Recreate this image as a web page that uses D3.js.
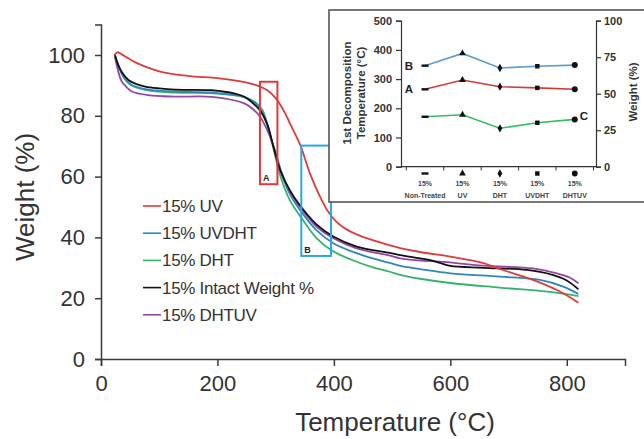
<!DOCTYPE html>
<html><head><meta charset="utf-8">
<script src="https://cdn.jsdelivr.net/npm/d3@7"></script>
<style>html,body{margin:0;padding:0;background:#fff;}svg{display:block;}</style>
</head><body>
<svg id="chart" width="644" height="439"></svg>
<script>
// ---------- main chart data ----------
const seriesNames = ["15% UV", "15% UVDHT", "15% DHT", "15% Intact Weight %", "15% DHTUV"];
const seriesColors = ["#de3b3b", "#2f86be", "#35b36a", "#111111", "#9446a6"];
const tempUV = [23,28,35,47,60,76,100,127,160,200,240,265,285,300,315,327,342,359,376,390,405,420,439,468,496,514,548,600,657,685,742,789,820];
const wUV    = [100,100.9,100.3,98.9,97.5,96.2,94.6,93.6,92.9,92.4,91.3,90.2,88.5,85.8,81.3,76.5,70.5,61,53.5,48.5,45,42.8,41,39,37.4,36.5,35.2,33.7,31.5,29.6,26,22.1,18.5];
const tempUVDHT = [24,30,38,50,76,127,190,245,265,275,285,296,308,325,348,370,399,439,470,496,514,548,600,685,754,794,820];
const wUVDHT    = [99.5,96.5,93,90.5,88.8,88,87.6,86.2,84.2,81.8,77.3,70,62,54,47.4,42.4,38.1,34.8,32.9,31.6,30.6,29.6,28.2,27.1,26,23.8,21.4];
const tempDHT = [24,30,38,50,76,127,190,245,265,277,287,297,308,325,348,370,399,439,470,496,514,548,600,685,771,820];
const wDHT    = [99.5,96.5,93,90.3,88.5,87.6,87.4,86.2,84.5,82,76.5,68.5,60.2,52,45.4,39.8,35.4,32,30,28.7,27.7,26.4,25,23.5,22.1,20.7];
const tempIntact = [24,30,36,47,60,76,100,127,190,230,247,260,273,285,296,308,325,348,370,399,439,496,514,548,570,582,600,657,731,777,800,820];
const wIntact    = [100,96.5,94.3,91.8,90.5,89.6,89,88.6,88.4,87.3,86.2,84.3,81.8,77.5,70,62,55.3,49,44.3,40.3,37,34.9,34.2,33.1,32.3,31.6,30.6,30,29.3,27.6,25.8,22.9];
const tempDHTUV = [24,27,35,45,53,81,127,190,247,262,272,285,298,310,325,348,370,399,439,496,514,548,582,657,742,783,805,820];
const wDHTUV    = [99.5,96.7,91.5,89.2,88,86.8,86.3,86.2,84,82,80,75.5,69,61.5,54.8,48.4,43.6,39.7,36.4,34,33.1,32.4,32,30.7,29.8,28.2,26.8,24.9];
const xTicks = [0,200,400,600,800];
const yTicks = [0,20,40,60,80,100];
// annotation boxes [tMin,tMax,wMin,wMax,label]
const boxA = [273,303,57.5,91.2,"A"];
const boxB = [344,395,33.9,70.2,"B"];

// ---------- inset data ----------
const insetCats = ["15%|Non-Treated","15%|UV","15%|DHT","15%|UVDHT","15%|DHTUV"];
const insetMarkers = ["dash","triangle","diamond","square","circle"];
const decompA = [265,297,274,270,265];   // left axis, line A
const decompB = [346,388,338,344,348];   // left axis, line B
const weightC = [34.2,35.6,26.3,30.1,32.4]; // right axis, line C
const insetLeftTicks = [0,100,200,300,400,500];
const insetRightTicks = [0,25,50,75,100];

const svg = d3.select("#chart");
const font = "'Liberation Sans', Arial, sans-serif";

// ---------- main scales ----------
const x = d3.scaleLinear().domain([0,900]).range([101,625]);
const y = d3.scaleLinear().domain([0,110]).range([359,24.6]);

const gx = svg.append("g").attr("transform","translate(0,359)")
  .call(d3.axisBottom(x).tickValues(xTicks).tickSize(7).tickPadding(9).tickFormat(d3.format("d")));
const gy = svg.append("g").attr("transform","translate(101,0)")
  .call(d3.axisLeft(y).tickValues(yTicks).tickSize(6).tickPadding(10).tickFormat(d3.format("d")));
[gx,gy].forEach(g=>{
  g.select(".domain").attr("stroke","#3a3a3a").attr("stroke-width",1.5);
  g.selectAll(".tick line").attr("stroke","#3a3a3a").attr("stroke-width",1.5);
  g.selectAll("text").attr("font-family",font).attr("font-size",22).attr("fill","#333");
});

svg.append("text").attr("x",395).attr("y",431).attr("text-anchor","middle")
  .attr("font-family",font).attr("font-size",26).attr("fill","#333").text("Temperature (°C)");
svg.append("text").attr("transform","translate(34,197) rotate(-90)").attr("text-anchor","middle")
  .attr("font-family",font).attr("font-size",26).attr("fill","#333").text("Weight (%)");

// ---------- curves ----------
const series = [
  [tempUV,wUV],[tempUVDHT,wUVDHT],[tempDHT,wDHT],[tempIntact,wIntact],[tempDHTUV,wDHTUV]
];
const line = d3.line().x(d=>x(d[0])).y(d=>y(d[1])).curve(d3.curveCatmullRom.alpha(0.5));
const drawOrder = [2,1,4,3,0];
drawOrder.forEach(i=>{
  const pts = series[i][0].map((t,j)=>[t,series[i][1][j]]);
  svg.append("path").attr("d",line(pts)).attr("fill","none")
    .attr("stroke",seriesColors[i]).attr("stroke-width",1.8);
});

// ---------- annotation boxes ----------
[[boxA,"#e0383c"],[boxB,"#2aa9df"]].forEach(([b,c])=>{
  svg.append("rect").attr("x",x(b[0])).attr("y",y(b[3]))
    .attr("width",x(b[1])-x(b[0])).attr("height",y(b[2])-y(b[3]))
    .attr("fill","none").attr("stroke",c).attr("stroke-width",2);
  svg.append("text").attr("x",x(b[0])+3).attr("y",y(b[2])-3)
    .attr("font-family",font).attr("font-size",9).attr("font-weight","bold").attr("fill","#222").text(b[4]);
});

// ---------- legend ----------
const lg = svg.append("g");
seriesNames.forEach((n,i)=>{
  const yy = 206 + i*27.2;
  lg.append("line").attr("x1",143).attr("x2",161).attr("y1",yy).attr("y2",yy)
    .attr("stroke",seriesColors[i]).attr("stroke-width",1.6);
  lg.append("text").attr("x",162).attr("y",yy+6).attr("font-family",font)
    .attr("font-size",17).attr("letter-spacing","-0.3").attr("fill","#333").text(n);
});

// ---------- inset ----------
const ins = svg.append("g");
ins.append("rect").attr("x",329).attr("y",10).attr("width",330).attr("height",192)
  .attr("fill","#fff").attr("stroke","#555").attr("stroke-width",1.6);

const ix = d3.scaleBand().domain(insetCats).range([406.3,593.5]);
const iyL = d3.scaleLinear().domain([0,500]).range([166.7,20.7]);
const iyR = d3.scaleLinear().domain([0,100]).range([166.7,20.7]);
const cx = c => ix(c)+ix.bandwidth()/2;

const iaxL = ins.append("g").attr("transform","translate(401,0)")
  .call(d3.axisLeft(iyL).tickValues(insetLeftTicks).tickSize(5).tickPadding(4));
const iaxR = ins.append("g").attr("transform","translate(596,0)")
  .call(d3.axisRight(iyR).tickValues(insetRightTicks).tickSize(5).tickPadding(3));
[iaxL,iaxR].forEach(g=>{
  g.select(".domain").attr("stroke","#333").attr("stroke-width",1.2);
  g.selectAll(".tick line").attr("stroke","#333").attr("stroke-width",1.2);
  g.selectAll("text").attr("font-family",font).attr("font-size",11).attr("font-weight","bold").attr("fill","#333");
});
// x axis of inset
ins.append("line").attr("x1",401).attr("x2",596).attr("y1",166.7).attr("y2",166.7)
  .attr("stroke","#333").attr("stroke-width",1.2);
const bounds = insetCats.map(c=>ix(c)).concat([ix.range()[1]]);
bounds.forEach(b=>{
  ins.append("line").attr("x1",b).attr("x2",b).attr("y1",166.7).attr("y2",170.5)
    .attr("stroke","#333").attr("stroke-width",1);
});
insetCats.forEach((c,i)=>{
  const parts = c.split("|");
  ins.append("text").attr("x",cx(c)).attr("y",186).attr("text-anchor","middle")
    .attr("font-family",font).attr("font-size",7).attr("font-weight","bold").attr("fill","#444").text(parts[0]);
  ins.append("text").attr("x",cx(c)).attr("y",198).attr("text-anchor","middle")
    .attr("font-family",font).attr("font-size",7).attr("font-weight","bold").attr("fill","#444").text(parts[1]);
});
// axis titles
ins.append("text").attr("transform","translate(351,93) rotate(-90)").attr("text-anchor","middle")
  .attr("font-family",font).attr("font-size",11.5).attr("font-weight","bold").attr("fill","#333").text("1st Decomposition");
ins.append("text").attr("transform","translate(364.5,93) rotate(-90)").attr("text-anchor","middle")
  .attr("font-family",font).attr("font-size",11.5).attr("font-weight","bold").attr("fill","#333").text("Temperature (°C)");
ins.append("text").attr("transform","translate(637,92) rotate(-90)").attr("text-anchor","middle")
  .attr("font-family",font).attr("font-size",11.5).attr("font-weight","bold").attr("fill","#333").text("Weight (%)");

// marker symbol generator
function marker(g, type, px, py, s){
  if(type==="dash"){
    g.append("rect").attr("x",px-3.5).attr("y",py-1.2).attr("width",7).attr("height",2.4).attr("fill","#111");
  } else {
    const t = {triangle:d3.symbolTriangle, diamond:d3.symbolDiamond, square:d3.symbolSquare, circle:d3.symbolCircle}[type];
    g.append("path").attr("transform",`translate(${px},${py})`)
      .attr("d",d3.symbol().type(t).size(s)()).attr("fill","#111");
  }
}
// legend markers under axis
insetMarkers.forEach((m,i)=>marker(ins,m,cx(insetCats[i]),173.5,m==="circle"?26:20));

const insetLines = [
  [decompB,iyL,"#5b9bd5"],
  [decompA,iyL,"#d23a35"],
  [weightC,iyR,"#33c05a"]
];
insetLines.forEach(([vals,sc,col])=>{
  const l = d3.line().x((d,i)=>cx(insetCats[i])).y(d=>sc(d));
  ins.append("path").attr("d",l(vals)).attr("fill","none").attr("stroke",col).attr("stroke-width",1.6);
  vals.forEach((v,i)=>marker(ins,insetMarkers[i],cx(insetCats[i]),sc(v),insetMarkers[i]==="circle"?28:20));
});
// line labels
ins.append("text").attr("x",cx(insetCats[0])-12).attr("y",iyL(decompB[0])+4).attr("text-anchor","end")
  .attr("font-family",font).attr("font-size",11.5).attr("font-weight","bold").attr("fill","#222").text("B");
ins.append("text").attr("x",cx(insetCats[0])-12).attr("y",iyL(decompA[0])+4).attr("text-anchor","end")
  .attr("font-family",font).attr("font-size",11.5).attr("font-weight","bold").attr("fill","#222").text("A");
ins.append("text").attr("x",cx(insetCats[4])+5).attr("y",iyR(weightC[4])+1).attr("text-anchor","start")
  .attr("font-family",font).attr("font-size",11.5).attr("font-weight","bold").attr("fill","#222").text("C");
</script>
</body></html>
